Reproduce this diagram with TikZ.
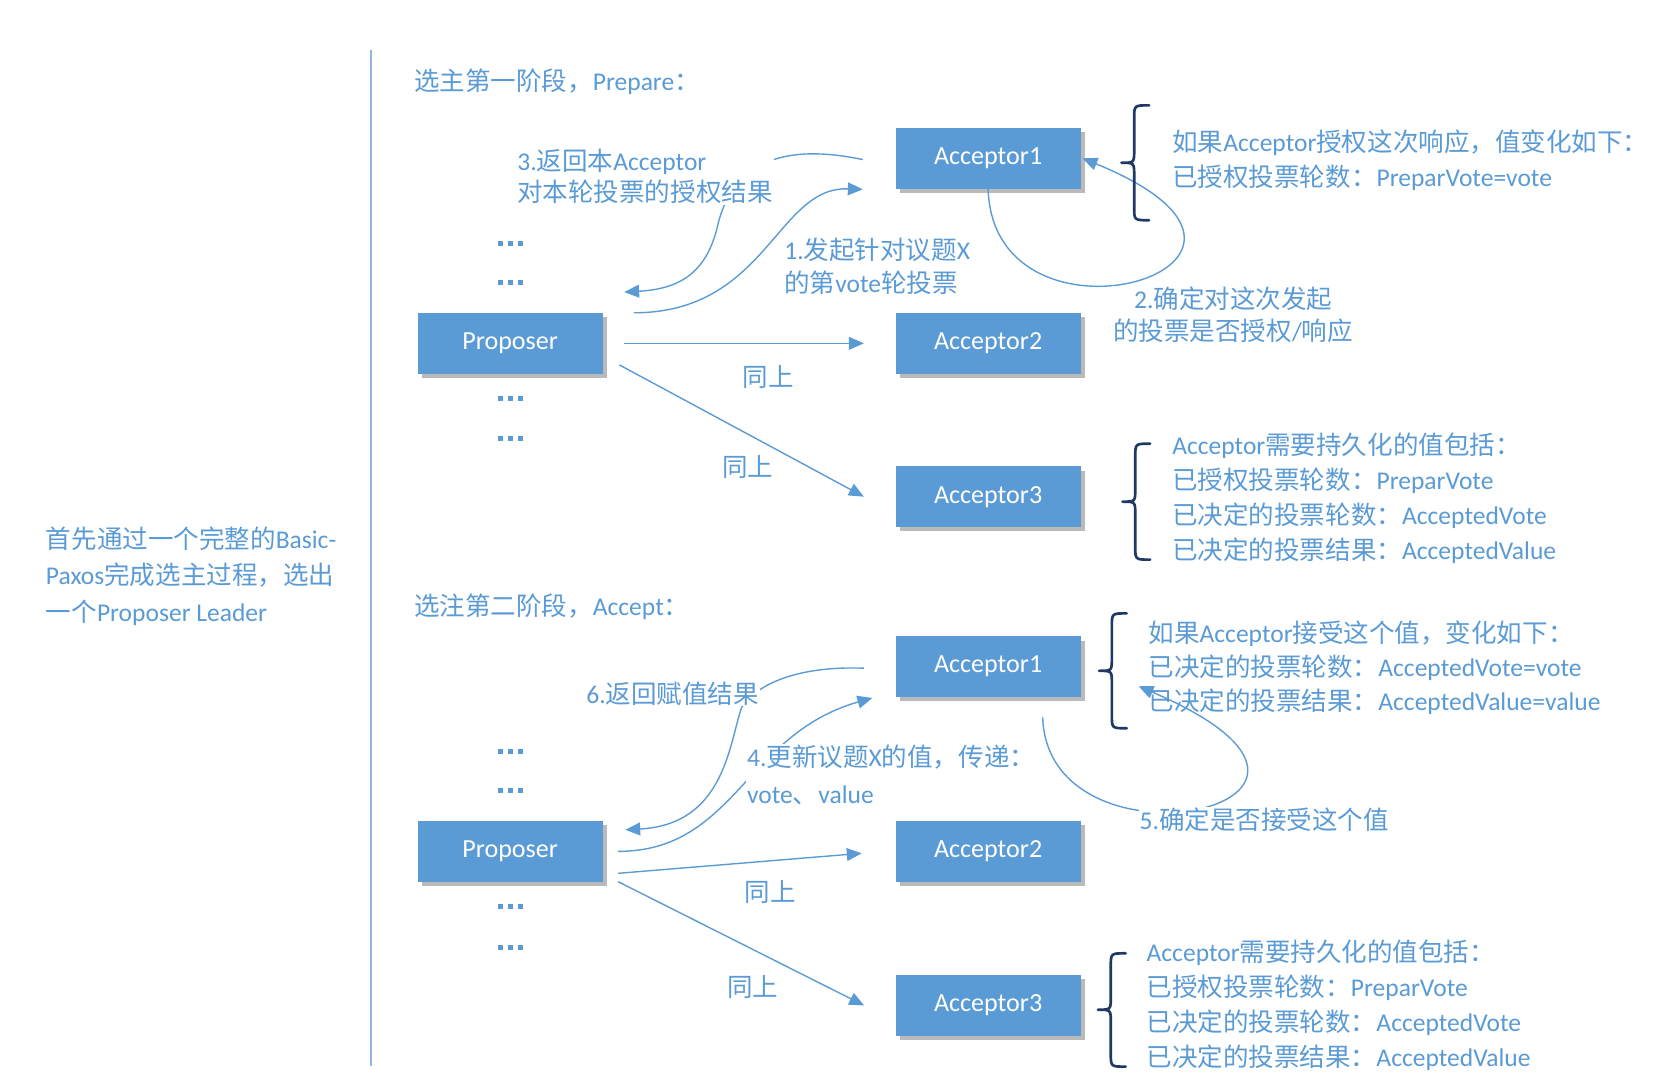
\documentclass[tikz,border=0pt]{standalone}
\usepackage{fontspec}
\setmainfont{Carlito}
\newfontfamily\cjkfont{Noto Sans CJK SC}
\usetikzlibrary{arrows.meta,shadows}
\XeTeXinterchartokenstate=1
\newXeTeXintercharclass\CJKcls
\newcount\ccnt
\ccnt="4E00
\loop
  \XeTeXcharclass\ccnt=\CJKcls
  \advance\ccnt by 1
\ifnum\ccnt<"A000 \repeat
\ccnt="3000
\loop
  \XeTeXcharclass\ccnt=\CJKcls
  \advance\ccnt by 1
\ifnum\ccnt<"3040 \repeat
\ccnt="FF00
\loop
  \XeTeXcharclass\ccnt=\CJKcls
  \advance\ccnt by 1
\ifnum\ccnt<"FFF0 \repeat
\XeTeXinterchartoks 0 \CJKcls = {\cjkfont}
\XeTeXinterchartoks 4095 \CJKcls = {\cjkfont}
\XeTeXinterchartoks \CJKcls 0 = {\rmfamily}
\XeTeXinterchartoks \CJKcls 4095 = {\rmfamily}
\definecolor{boxblue}{HTML}{5B9BD5}
\definecolor{txtblue}{HTML}{5B9BD5}
\definecolor{lineblue}{HTML}{5B9BD5}
\definecolor{navy}{HTML}{1F3864}
\definecolor{vline}{HTML}{8EB4E3}
\newcommand\sqd{\rule{4.7pt}{4.7pt}\hspace{4.7pt}\rule{4.7pt}{4.7pt}\hspace{4.7pt}\rule{4.7pt}{4.7pt}}
\tikzset{
  box/.style={fill=boxblue, minimum width=174pt, minimum height=57pt, inner sep=0pt,
    text=white, font=\fontsize{24.5}{30}\selectfont,
    drop shadow={shadow xshift=4pt, shadow yshift=-4pt, fill=black!60, opacity=0.45}},
  conn/.style={draw=lineblue, line width=1.3pt, -{Triangle[length=14pt,width=12pt]}},
  lbl/.style={text=txtblue, font=\fontsize{24}{33}\selectfont, inner sep=1pt, align=left},
  lblw/.style={lbl, fill=white},
  dotsq/.style={text=txtblue, inner sep=0pt},
  brc/.style={draw=navy, line width=2.5pt, line cap=round, line join=round},
}
\begin{document}
\begin{tikzpicture}[x=1pt,y=-1pt]
\fill[white] (0,0) rectangle (1560.2,1024.4);
\useasboundingbox (0,0) rectangle (1560.2,1024.4);

% separator
\draw[vline, line width=2pt] (349,47) -- (349,1002);

% left text and titles
\node[lbl, anchor=west, font=\fontsize{24}{34}\selectfont] (intro) at (42,541.5)
  {首先通过一个完整的Basic-\\Paxos完成选主过程，选出\\一个Proposer Leader};
\node[lbl, anchor=west] (title1) at (388,77) {选主第一阶段，Prepare：};
\node[lbl, anchor=west] (title2) at (388,570) {选注第二阶段，Accept：};

% phase 1 boxes
\node[box] (P1) at (479.5,322.7) {Proposer};
\node[box] (A1) at (928.7,148.8) {Acceptor1};
\node[box] (A2) at (928.7,322.7) {Acceptor2};
\node[box] (A3) at (928.7,466.8) {Acceptor3};
% phase 2 boxes
\node[box] (P2) at (479.5,800.2) {Proposer};
\node[box] (B1) at (928.7,626.5) {Acceptor1};
\node[box] (B2) at (928.7,800.2) {Acceptor2};
\node[box] (B3) at (928.7,945) {Acceptor3};

% dots
\node[dotsq] (d1) at (480,228.5) {\sqd};
\node[dotsq] (d2) at (480,265.5) {\sqd};
\node[dotsq] (d3) at (480,374.5) {\sqd};
\node[dotsq] (d4) at (480,412) {\sqd};
\node[dotsq] (d5) at (480,706.5) {\sqd};
\node[dotsq] (d6) at (480,743) {\sqd};
\node[dotsq] (d7) at (480,852) {\sqd};
\node[dotsq] (d8) at (480,890.5) {\sqd};

% phase 1 connectors
\draw[conn] ([xshift=19.6pt]P1.east) -- ([xshift=-29.6pt]A2.west);
\draw[conn] ([xshift=15.5pt,yshift=-20.3pt]P1.east) -- ([xshift=-29.6pt]A3.west);
\draw[conn] ([xshift=29pt]P1.north east) .. controls +(125,0) and +(-81,-3) .. ([xshift=-30.6pt,yshift=-29.2pt]A1.west);
\draw[conn] ([xshift=-30.6pt,yshift=-1.2pt]A1.west) .. controls +(-71,-15) and +(15,-60) .. (675,210)
  .. controls +(-10,45) and +(54,-3) .. ([xshift=20pt,yshift=19.5pt]P1.north east);
\draw[conn] (A1.south) .. controls +(5,168) and +(245,100) .. ([xshift=1.5pt]A1.east);

% phase 2 connectors
\draw[conn] ([xshift=14.3pt,yshift=-20.6pt]P2.east) -- ([xshift=-31.6pt,yshift=-1.8pt]B2.west);
\draw[conn] ([xshift=14.3pt,yshift=-28.5pt]P2.east) -- ([xshift=-29.3pt]B3.west);
\draw[conn] ([xshift=14pt]P2.east) .. controls +(110,0) and +(-120,34) .. ([xshift=-21.6pt,yshift=-29.5pt]B1.west);
\draw[conn] ([xshift=-29.6pt,yshift=-1.5pt]B1.west) .. controls +(-52,-2) and +(18,-27) .. (697,665)
  .. controls +(-12,35) and +(93,-5) .. ([xshift=21pt,yshift=-8.4pt]P2.north east);
\draw[conn] ([xshift=51.3pt,yshift=-19.1pt]B1.south) .. controls +(5,155) and +(262,112) .. ([xshift=54.2pt,yshift=-18.5pt]B1.east);

% connector labels
\node[lblw, anchor=west, font=\fontsize{24}{29}\selectfont] (l3) at (485,166) {3.返回本Acceptor\\对本轮投票的授权结果};
\node[lbl, anchor=west, font=\fontsize{24}{31}\selectfont] (l1) at (736,250.6) {1.发起针对议题X\\的第vote轮投票};
\node[lblw, align=center, font=\fontsize{24}{30}\selectfont] (l2) at (1159,296) {2.确定对这次发起\\的投票是否授权/响应};
\node[lbl] (s1) at (722,354) {同上};
\node[lbl] (s2) at (703,438.6) {同上};
\node[lblw, anchor=west] (l6) at (550,651.6) {6.返回赋值结果};
\node[lblw, anchor=west, font=\fontsize{24}{34}\selectfont] (l4) at (701,728.3) {4.更新议题X的值，传递：\\vote、value};
\node[lblw, anchor=west] (l5) at (1070,770.7) {5.确定是否接受这个值};
\node[lbl] (s3) at (724,838) {同上};
\node[lbl] (s4) at (707.4,927.3) {同上};

% braces
\draw[brc] (1080,99) .. controls (1066,99) .. (1066,111) -- (1066,141) .. controls (1066,153) .. (1054,153) .. controls (1066,153) .. (1066,165) -- (1066,195) .. controls (1066,207) .. (1080,207);
\draw[brc] (1081,417) .. controls (1067,417) .. (1067,429) -- (1067,459.5) .. controls (1067,471.5) .. (1055,471.5) .. controls (1067,471.5) .. (1067,483.5) -- (1067,514) .. controls (1067,526) .. (1081,526);
\draw[brc] (1059,576.5) .. controls (1045,576.5) .. (1045,588.5) -- (1045,618.5) .. controls (1045,630.5) .. (1033,630.5) .. controls (1045,630.5) .. (1045,642.5) -- (1045,672.5) .. controls (1045,684.5) .. (1059,684.5);
\draw[brc] (1058,896) .. controls (1044,896) .. (1044,908) -- (1044,937) .. controls (1044,949) .. (1032,949) .. controls (1044,949) .. (1044,961) -- (1044,990.5) .. controls (1044,1002.5) .. (1058,1002.5);

% brace texts
\node[lbl, anchor=west] (t1) at (1100.6,151) {如果Acceptor授权这次响应，值变化如下：\\已授权投票轮数：PreparVote=vote};
\node[lbl, anchor=west] (t2) at (1100.6,468.4) {Acceptor需要持久化的值包括：\\已授权投票轮数：PreparVote\\已决定的投票轮数：AcceptedVote\\已决定的投票结果：AcceptedValue};
\node[lbl, anchor=west, font=\fontsize{24}{32}\selectfont] (t3) at (1078.3,627.6) {如果Acceptor接受这个值，变化如下：\\已决定的投票轮数：AcceptedVote=vote\\已决定的投票结果：AcceptedValue=value};
\node[lbl, anchor=west] (t4) at (1076.5,944.8) {Acceptor需要持久化的值包括：\\已授权投票轮数：PreparVote\\已决定的投票轮数：AcceptedVote\\已决定的投票结果：AcceptedValue};
\end{tikzpicture}
\end{document}
